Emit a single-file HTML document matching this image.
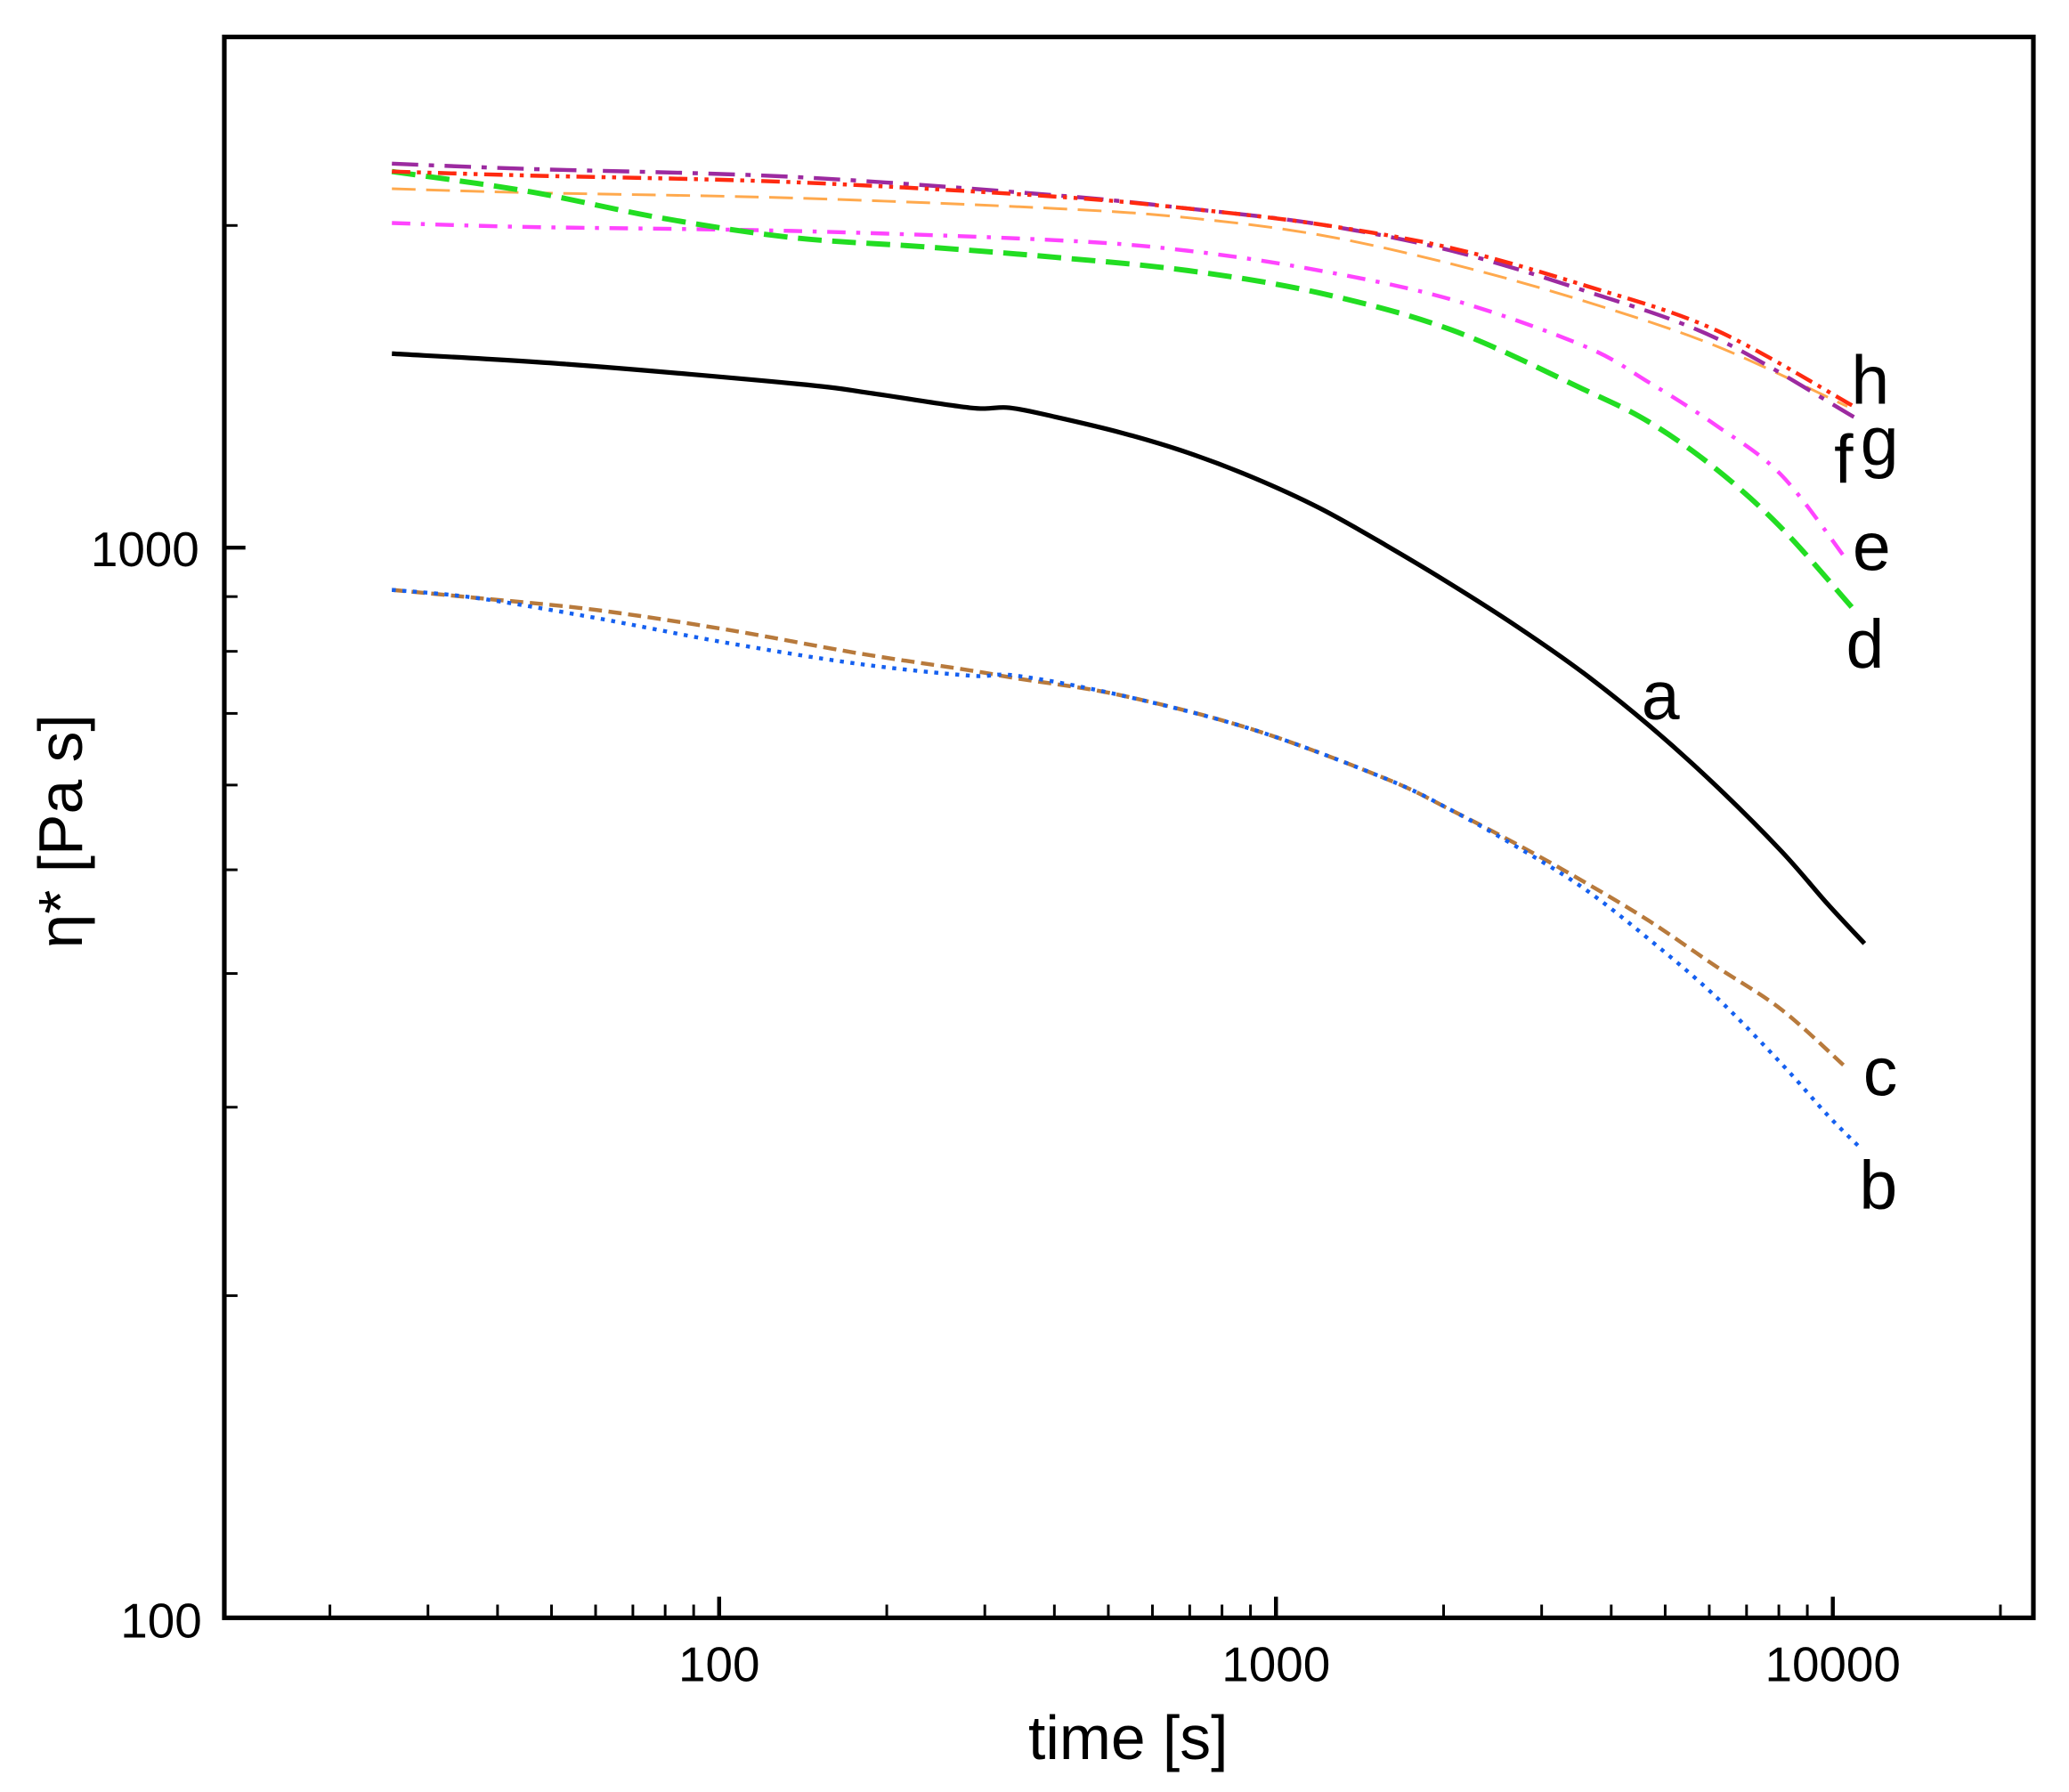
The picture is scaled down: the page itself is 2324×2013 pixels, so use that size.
<!DOCTYPE html>
<html><head><meta charset="utf-8"><style>html,body{margin:0;padding:0;background:#fff}svg{display:block}</style></head>
<body>
<svg id="s" width="2324" height="2013" viewBox="0 0 1568 1358" preserveAspectRatio="none" xmlns="http://www.w3.org/2000/svg" font-family="Liberation Sans, Arial, sans-serif">
<rect x="0" y="0" width="1568" height="1358" fill="#fff"/>
<g id="ticks" stroke="#000"></g>
<g id="curves" fill="none" stroke-linejoin="round">
<polyline stroke="#000" stroke-width="3.5" points="297,268 430,276 605,291 660,298 735,309 765,309 800,316 850,328 900,343 950,362 1000,385 1050,413 1100,443 1150,475 1200,510 1250,550 1300,595 1350,645 1385,685 1413,715"/>
<polyline stroke="#b87a3c" stroke-width="3" stroke-dasharray="10,5" points="297,447 360,453 450,462 550,477 650,495 735,508 770,514 850,527 950,553 1050,590 1100,614 1150,640 1200,668 1250,698 1300,732 1350,765 1398,808"/>
<polyline stroke="#1560f0" stroke-width="3" stroke-dasharray="3,5" points="297,447 360,453 450,468 550,487 650,503 735,512 770,512 850,527 950,553 1050,590 1100,614 1150,642 1200,673 1250,712 1300,755 1350,806 1385,845 1410,870"/>
<polyline stroke="#ffa94d" stroke-width="2" stroke-dasharray="18,8" points="297,143 400,146 600,150 800,158 900,165 1000,178 1100,200 1200,228 1300,262 1400,308"/>
<polyline stroke="#ff44ff" stroke-width="3" stroke-dasharray="14,8,3,8" points="297,169 400,172 600,175 800,182 900,190 1000,205 1100,227 1200,262 1250,290 1300,322 1350,360 1400,425"/>
<polyline stroke="#22dd22" stroke-width="4" stroke-dasharray="18,8" points="297,130 400,145 500,165 600,180 700,187 800,195 900,205 1000,222 1100,250 1200,295 1250,320 1300,355 1350,400 1405,462"/>
<polyline stroke="#9c2aa0" stroke-width="3" stroke-dasharray="20,8,4,8" points="297,124 400,128 600,134 800,148 900,158 1000,170 1100,190 1200,220 1300,256 1405,316"/>
<polyline stroke="#ff2a10" stroke-width="3" stroke-dasharray="14,5,3,5,3,5" points="297,130 400,133 600,138 800,149 900,158 1000,170 1100,188 1200,216 1300,250 1405,308"/>
</g>
<rect x="170" y="28" width="1371" height="1198" fill="none" stroke="#000" stroke-width="3.5"/>
<g font-size="52" fill="#000">
<text x="1403" y="306">h</text>
<text x="1390" y="366">f</text>
<text x="1410" y="352">g</text>
<text x="1404" y="432">e</text>
<text x="1399" y="506">d</text>
<text x="1244" y="545">a</text>
<text x="1412" y="830">c</text>
<text x="1409" y="916">b</text>
</g>
<g font-size="37" fill="#000">
<text x="151" y="429" text-anchor="end">1000</text>
<text x="153" y="1241" text-anchor="end">100</text>
<text x="545" y="1274" text-anchor="middle">100</text>
<text x="967" y="1274" text-anchor="middle">1000</text>
<text x="1389" y="1274" text-anchor="middle">10000</text>
</g>
<text x="855" y="1333" font-size="47" text-anchor="middle">time [s]</text>
<text transform="translate(62,630) rotate(-90)" font-size="47" text-anchor="middle">η* [Pa s]</text>
</svg>
<script>
var g=document.getElementById('ticks'),ns="http://www.w3.org/2000/svg";
function ln(x1,y1,x2,y2,w){var l=document.createElementNS(ns,'line');l.setAttribute('x1',x1);l.setAttribute('y1',y1);l.setAttribute('x2',x2);l.setAttribute('y2',y2);l.setAttribute('stroke-width',w);g.appendChild(l);}
function X(t){return 545+422*Math.log10(t/100);}
function Y(v){return 1226-811*Math.log10(v/100);}
[10,100,1000,10000].forEach(function(d){for(var k=1;k<10;k++){var t=d*k,x=X(t);if(x<=172||x>=1539)continue;if(k==1)ln(x,1226,x,1210,3);else ln(x,1226,x,1216,2);}});
[100,1000].forEach(function(d){for(var k=1;k<10;k++){var v=d*k,y=Y(v);if(y<=30||y>=1224)continue;if(k==1)ln(170,y,186,y,3);else ln(170,y,180,y,2);}});
// smooth polylines into Catmull-Rom paths
var pls=document.querySelectorAll('#curves polyline');
pls.forEach(function(pl){
 var p=pl.getAttribute('points').trim().split(/\s+/).map(function(s){return s.split(',').map(Number);});
 var d='M'+p[0][0]+','+p[0][1];
 for(var i=0;i<p.length-1;i++){
  var p0=p[i>0?i-1:i],p1=p[i],p2=p[i+1],p3=p[i+2<p.length?i+2:i+1];
  var c1x=p1[0]+(p2[0]-p0[0])/6,c1y=p1[1]+(p2[1]-p0[1])/6,c2x=p2[0]-(p3[0]-p1[0])/6,c2y=p2[1]-(p3[1]-p1[1])/6;
  d+=' C'+c1x+','+c1y+' '+c2x+','+c2y+' '+p2[0]+','+p2[1];
 }
 var path=document.createElementNS(ns,'path');
 ['stroke','stroke-width','stroke-dasharray'].forEach(function(a){if(pl.getAttribute(a))path.setAttribute(a,pl.getAttribute(a));});
 path.setAttribute('d',d);
 pl.parentNode.replaceChild(path,pl);
});
</script>
</body></html>
